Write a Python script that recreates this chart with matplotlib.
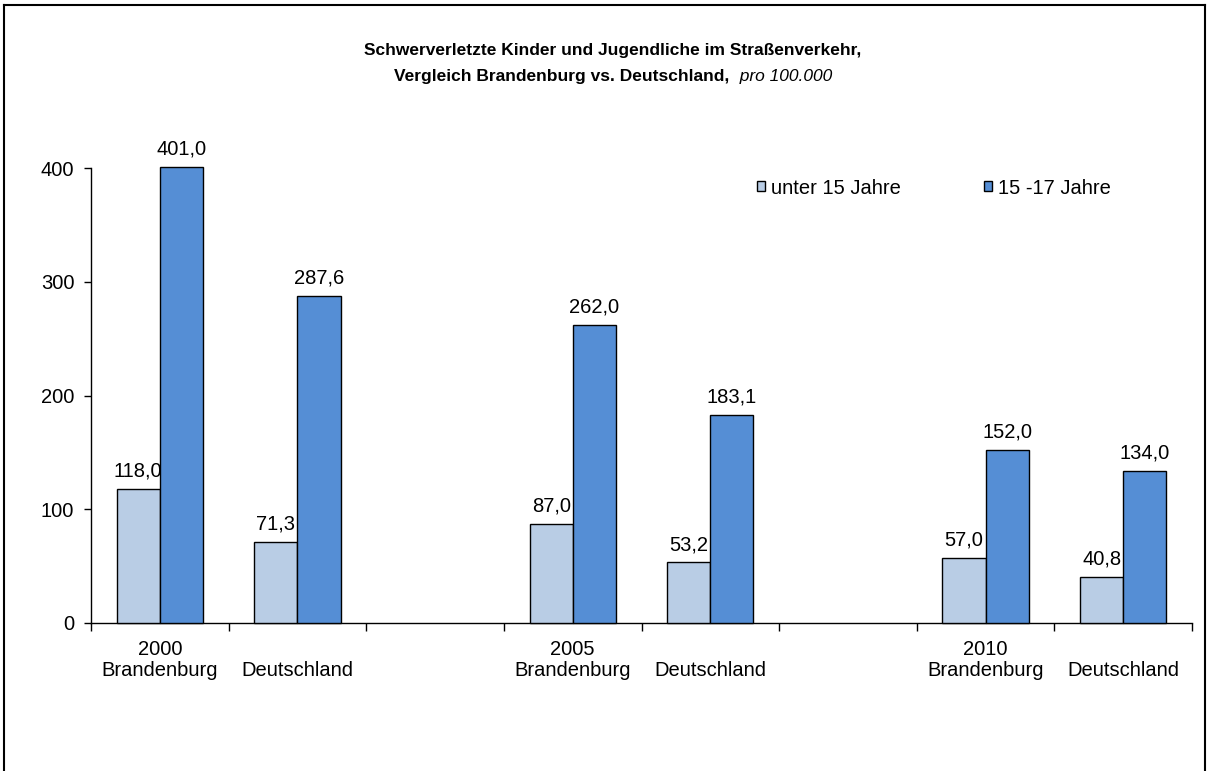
import numpy as np
import matplotlib
matplotlib.use("Agg")
import matplotlib.pyplot as plt
from matplotlib.patches import Patch
from matplotlib.lines import Line2D

plt.rcParams['font.family'] = ['Liberation Sans', 'DejaVu Sans']

categories = ["2000\nBrandenburg", "Deutschland", "", "2005\nBrandenburg", "Deutschland", "",
              "2010\nBrandenburg", "Deutschland"]
under15 = [118.0, 71.3, None, 87.0, 53.2, None, 57.0, 40.8]
age15_17 = [401.0, 287.6, None, 262.0, 183.1, None, 152.0, 134.0]
series_names = ["unter 15 Jahre", "15 -17 Jahre"]
yticks = [0, 100, 200, 300, 400]

c_light = "#B9CDE5"
c_dark = "#558ED5"
fs = 14.5

W, H = 1207, 771
fig = plt.figure(figsize=(W / 100, H / 100), dpi=100)
ax = fig.add_axes([91 / W, 1 - 623 / H, (1192 - 91) / W, (623 - 168) / H])

x = np.arange(len(categories))
bw = 0.313
for vals, off, col in [(under15, -bw / 2, c_light), (age15_17, bw / 2, c_dark)]:
    for xi, v in zip(x, vals):
        if v is None:
            continue
        ax.bar(xi + off, v, width=bw, color=col, edgecolor="black", linewidth=1.0, clip_on=False, zorder=3)
        ax.annotate(f"{v:.1f}".replace(".", ","), (xi + off, v), xytext=(0, 6), textcoords="offset points",
                    ha="center", va="bottom", fontsize=fs, annotation_clip=False)

ax.set_xlim(-0.5, len(categories) - 0.5)
ax.set_ylim(0, 400)
ax.set_yticks(yticks)
ax.set_yticklabels([str(t) for t in yticks], fontsize=fs)
ax.tick_params(axis="y", direction="out", length=5, width=1, pad=7)

ax.set_xticks(x)
ax.set_xticklabels([c if ("\n" in c or c == "") else "\n" + c for c in categories],
                   fontsize=fs, linespacing=1.15)
ax.tick_params(axis="x", which="major", length=0, pad=12)
ax.set_xticks(np.arange(len(categories) + 1) - 0.5, minor=True)
ax.tick_params(axis="x", which="minor", direction="out", length=6, width=1)

for s in ["top", "right"]:
    ax.spines[s].set_visible(False)
for s in ["left", "bottom"]:
    ax.spines[s].set_linewidth(1)

handles = [Patch(facecolor=c_light, edgecolor="black", linewidth=1),
           Patch(facecolor=c_dark, edgecolor="black", linewidth=1)]
fig.legend(handles, series_names, loc="center left", bbox_to_anchor=(757 / W, 1 - 188 / H),
           ncol=2, frameon=False, fontsize=fs, handlelength=0.4, handleheight=0.4,
           handletextpad=0.3, columnspacing=4.1, borderpad=0, borderaxespad=0)

fig.text(613 / W, 1 - 51 / H, "Schwerverletzte Kinder und Jugendliche im Straßenverkehr,",
         ha="center", va="center", fontsize=12.5, fontweight="bold")
t1 = fig.text(0, 0, "Vergleich Brandenburg vs. Deutschland,", fontsize=12.5, fontweight="bold", alpha=0)
t2 = fig.text(0, 0, "  pro 100.000", fontsize=12.5, fontstyle="italic", alpha=0)
fig.canvas.draw()
r = fig.canvas.get_renderer()
w1 = t1.get_window_extent(r).width
w2 = t2.get_window_extent(r).width
start = 613 - (w1 + w2) / 2
t1.set_position((start / W, 1 - 76 / H)); t1.set_va("center"); t1.set_alpha(1)
t2.set_position(((start + w1) / W, 1 - 76 / H)); t2.set_va("center"); t2.set_alpha(1)

fig.add_artist(Line2D([4 / W, 4 / W], [0, 1 - 5 / H], color="black", linewidth=1.5, transform=fig.transFigure))
fig.add_artist(Line2D([4 / W, 1205 / W], [1 - 5 / H, 1 - 5 / H], color="black", linewidth=1.5, transform=fig.transFigure))
fig.add_artist(Line2D([1205 / W, 1205 / W], [0, 1 - 5 / H], color="black", linewidth=1.5, transform=fig.transFigure))

fig.savefig("out.png", dpi=100)
